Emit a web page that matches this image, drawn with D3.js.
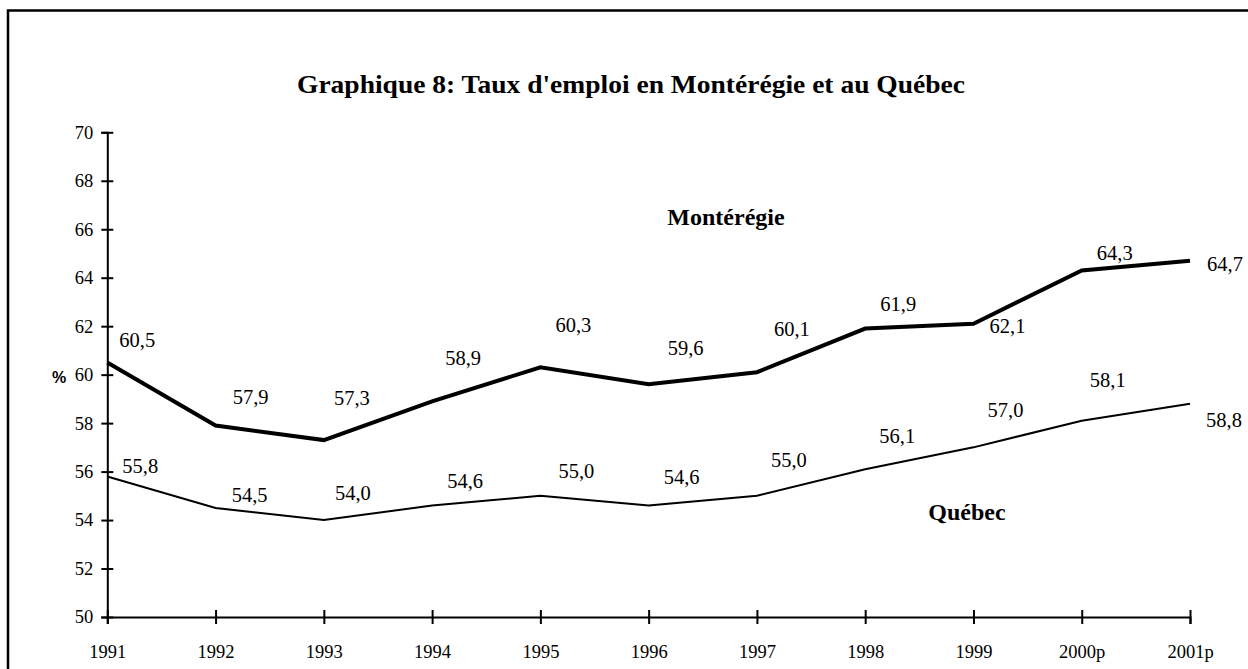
<!DOCTYPE html>
<html>
<head>
<meta charset="utf-8">
<script src="https://cdn.jsdelivr.net/npm/d3@7"></script>
<style>
  html, body { margin: 0; padding: 0; background: #fff; }
  svg { display: block; }
</style>
</head>
<body>
<div id="chart"></div>
<script>
const YEARS      = ["1991", "1992", "1993", "1994", "1995", "1996", "1997", "1998", "1999", "2000p", "2001p"];
const MONTEREGIE = [60.5, 57.9, 57.3, 58.9, 60.3, 59.6, 60.1, 61.9, 62.1, 64.3, 64.7];
const QUEBEC     = [55.8, 54.5, 54.0, 54.6, 55.0, 54.6, 55.0, 56.1, 57.0, 58.1, 58.8];
const Y_TICKS    = [50, 52, 54, 56, 58, 60, 62, 64, 66, 68, 70];

// label nudges (px) from each point, as placed in the original
const MONT_DX = [30, 35, 28, 31, 33, 37, 35, 33, 34, 33, 35];
const MONT_DY = [-16, -22, -35, -36, -35, -29, -36, -18, 9, -10, 10];
const QC_DX   = [33, 34, 29, 33, 36, 33, 32, 32, 32, 26, 34];
const QC_DY   = [-3, -6, -20, -18, -18, -22, -29, -26, -30, -34, 23];

const W = 1248, H = 669;
const SERIF = "'Liberation Serif', 'Times New Roman', serif";

const svg = d3.select("#chart").append("svg")
  .attr("width", W).attr("height", H);

// frame (right/bottom edges fall outside the picture)
svg.append("rect")
  .attr("x", 8).attr("y", 10.5)
  .attr("width", 1400).attr("height", 800)
  .attr("fill", "none").attr("stroke", "#000").attr("stroke-width", 2.5);

const x = d3.scalePoint().domain(YEARS).range([107.3, 1190]);
const y = d3.scaleLinear().domain([50, 70]).range([617, 132.3]);

// title
svg.append("text")
  .attr("x", 631).attr("y", 93)
  .attr("text-anchor", "middle")
  .attr("textLength", 668).attr("lengthAdjust", "spacingAndGlyphs")
  .style("font-family", SERIF).style("font-weight", "bold").style("font-size", "26px")
  .text("Graphique 8: Taux d'emploi en Montérégie et au Québec");

// y axis
const yAxis = svg.append("g")
  .attr("transform", `translate(${x(YEARS[0])},0)`)
  .call(d3.axisLeft(y).tickValues(Y_TICKS).tickSizeOuter(0).tickSize(6).tickPadding(8));
yAxis.select(".domain").attr("stroke-width", 2);
yAxis.selectAll(".tick line").attr("x1", 6).attr("stroke-width", 2);
yAxis.selectAll(".tick text")
  .style("font-family", SERIF).style("font-size", "18.5px").attr("fill", "#000");

// x axis
const xAxis = svg.append("g")
  .attr("transform", `translate(0,${y(50)})`)
  .call(d3.axisBottom(x).tickSizeOuter(0).tickSize(7).tickPadding(0));
xAxis.select(".domain").attr("stroke-width", 2);
xAxis.selectAll(".tick line").attr("y1", -7).attr("stroke-width", 2);
xAxis.selectAll(".tick text")
  .attr("y", 41).attr("dy", null)
  .style("font-family", SERIF).style("font-size", "18.5px").attr("fill", "#000");

// % unit
svg.append("text")
  .attr("x", 59).attr("y", y(60) + 8)
  .attr("text-anchor", "middle")
  .style("font-family", "'Liberation Sans', Arial, sans-serif")
  .style("font-weight", "bold").style("font-size", "16px")
  .text("%");

const line = d3.line()
  .x((d, i) => x(YEARS[i]))
  .y(d => y(d));

function drawSeries(values, width, dxs, dys) {
  svg.append("path")
    .datum(values)
    .attr("d", line)
    .attr("fill", "none")
    .attr("stroke", "#000")
    .attr("stroke-width", width)
    .attr("stroke-linejoin", "miter");

  svg.append("g").selectAll("text")
    .data(values)
    .join("text")
    .attr("x", (d, i) => x(YEARS[i]) + dxs[i])
    .attr("y", (d, i) => y(d) + dys[i])
    .attr("text-anchor", "middle")
    .style("font-family", SERIF).style("font-size", "20.5px")
    .text(d => d.toFixed(1).replace(".", ","));
}

drawSeries(QUEBEC, 2, QC_DX, QC_DY);
drawSeries(MONTEREGIE, 4, MONT_DX, MONT_DY);

// series names
svg.append("text")
  .attr("x", 726).attr("y", 225)
  .attr("text-anchor", "middle")
  .style("font-family", SERIF).style("font-weight", "bold").style("font-size", "24px")
  .text("Montérégie");

svg.append("text")
  .attr("x", 967).attr("y", 520)
  .attr("text-anchor", "middle")
  .style("font-family", SERIF).style("font-weight", "bold").style("font-size", "24px")
  .text("Québec");
</script>
</body>
</html>
